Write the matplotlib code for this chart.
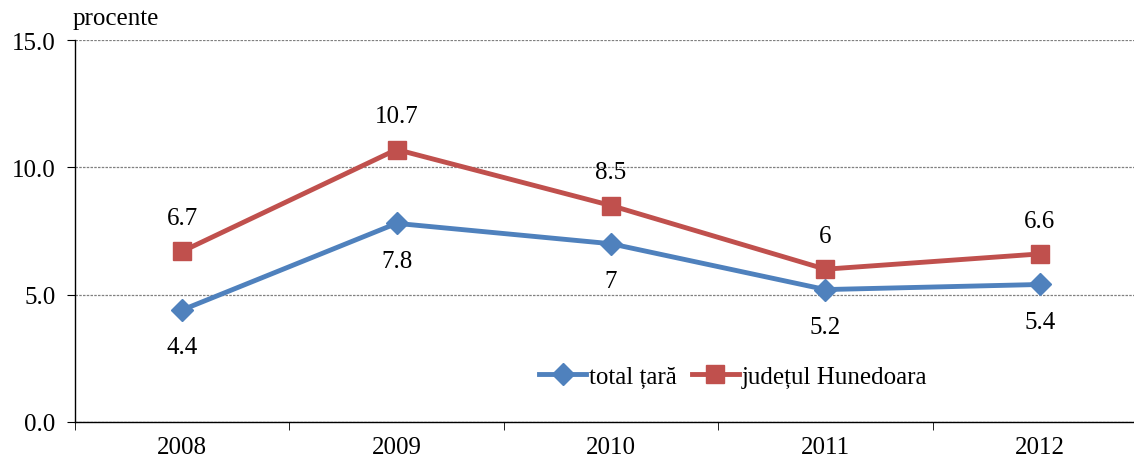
import matplotlib.pyplot as plt

plt.rcParams['font.family'] = ['Liberation Serif', 'DejaVu Serif']

ani = ['2008', '2009', '2010', '2011', '2012']
total_tara = [4.4, 7.8, 7.0, 5.2, 5.4]
hunedoara = [6.7, 10.7, 8.5, 6.0, 6.6]
et_total = ['4.4', '7.8', '7', '5.2', '5.4']
et_hd = ['6.7', '10.7', '8.5', '6', '6.6']

fs = 18

fig = plt.figure(figsize=(11.34, 4.64), dpi=100)
ax = fig.add_axes([75 / 1134, 1 - 423 / 464, (1147 - 75) / 1134, (423 - 41) / 464])

x = list(range(len(ani)))
ax.plot(x, total_tara, color='#4F81BD', lw=3.5, marker='D', ms=11, label='total țară', zorder=3)
ax.plot(x, hunedoara, color='#C0504D', lw=3.5, marker='s', ms=13.5, label='județul Hunedoara', zorder=3)

for xi, v, t in zip(x, total_tara, et_total):
    ax.annotate(t, (xi, v), xytext=(0, -27), textcoords='offset points', ha='center', va='center', fontsize=fs)
for xi, v, t in zip(x, hunedoara, et_hd):
    ax.annotate(t, (xi, v), xytext=(0, 24), textcoords='offset points', ha='center', va='center', fontsize=fs)

ax.set_xlim(-0.5, 4.5)
ax.set_ylim(0, 15)
ax.set_yticks([0, 5, 10, 15])
ax.set_yticklabels(['0.0', '5.0', '10.0', '15.0'], fontsize=fs)
ax.set_xticks(x)
ax.set_xticklabels(ani, fontsize=fs)
ax.set_xticks([i - 0.5 for i in range(6)], minor=True)
ax.tick_params(axis='x', which='major', length=0, pad=10)
ax.tick_params(axis='x', which='minor', length=6, direction='out')
ax.tick_params(axis='y', length=6, direction='out', pad=8)

ax.grid(axis='y', color='#808080', linestyle=(0, (2, 1)), linewidth=0.9)
ax.set_axisbelow(True)
for s in ['top', 'right']:
    ax.spines[s].set_visible(False)
ax.spines['left'].set_linewidth(1)
ax.spines['bottom'].set_linewidth(1)

ax.text(-0.002, 1.03, 'procente', transform=ax.transAxes, fontsize=fs, ha='left', va='bottom')

ax.legend(loc='center', bbox_to_anchor=(658 / 1072, 1 - (378 - 41) / 382), ncol=2, frameon=False,
          fontsize=fs, handlelength=1.9, handletextpad=0.1, columnspacing=0.6)

plt.savefig('out.png', dpi=100)
